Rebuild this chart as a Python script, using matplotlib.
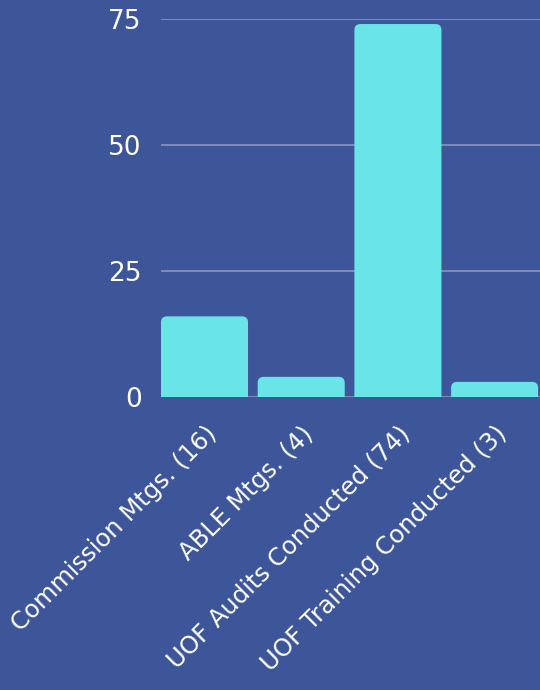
import matplotlib
matplotlib.use("Agg")
import matplotlib.pyplot as plt
from matplotlib.patches import FancyBboxPatch

# Activity counts
categories = ["Commission Mtgs. (16)", "ABLE Mtgs. (4)",
              "UOF Audits Conducted (74)", "UOF Training Conducted (3)"]
values = [16, 4, 74, 3]
y_ticks = [0, 25, 50, 75]

BG = "#3D5599"
BAR = "#69E5E8"

plt.rcParams["font.family"] = ["DejaVu Sans"]

fig = plt.figure(figsize=(5.4, 6.9), dpi=100, facecolor=BG)
ax = fig.add_axes([161 / 540, 293 / 690, 379 / 540, 378 / 690])
ax.set_facecolor(BG)

x = list(range(len(categories)))
bars = ax.bar(x, values, width=0.9, color=BAR)

# swap plain rectangles for ones with rounded top corners
r_x = 6 / 96.7
r_y = 6 / (378 / 75)
for rect in bars:
    p = FancyBboxPatch((rect.get_x(), -3), rect.get_width(), rect.get_height() + 3,
                       boxstyle=f"round,pad=0,rounding_size={r_x}",
                       mutation_aspect=r_y / r_x,
                       facecolor=BAR, edgecolor="none", zorder=2)
    ax.add_patch(p)
    rect.remove()

ax.set_xlim(-0.45, -0.45 + 379 / 96.7)
ax.set_ylim(0, 75)
ax.set_yticks(y_ticks)
ax.set_xticks(x)
ax.set_xticklabels(categories, rotation=45, ha="right", rotation_mode="anchor")

ax.tick_params(axis="both", length=0, colors="white")
ax.tick_params(axis="y", labelsize=19, pad=14)
ax.tick_params(axis="x", labelsize=17.5, pad=18)

ax.set_axisbelow(True)
ax.grid(axis="y", color="white", alpha=0.35, linewidth=1.3)
ax.grid(axis="x", visible=False)
for s in ax.spines.values():
    s.set_visible(False)

fig.savefig("out.png", dpi=100, facecolor=BG)
